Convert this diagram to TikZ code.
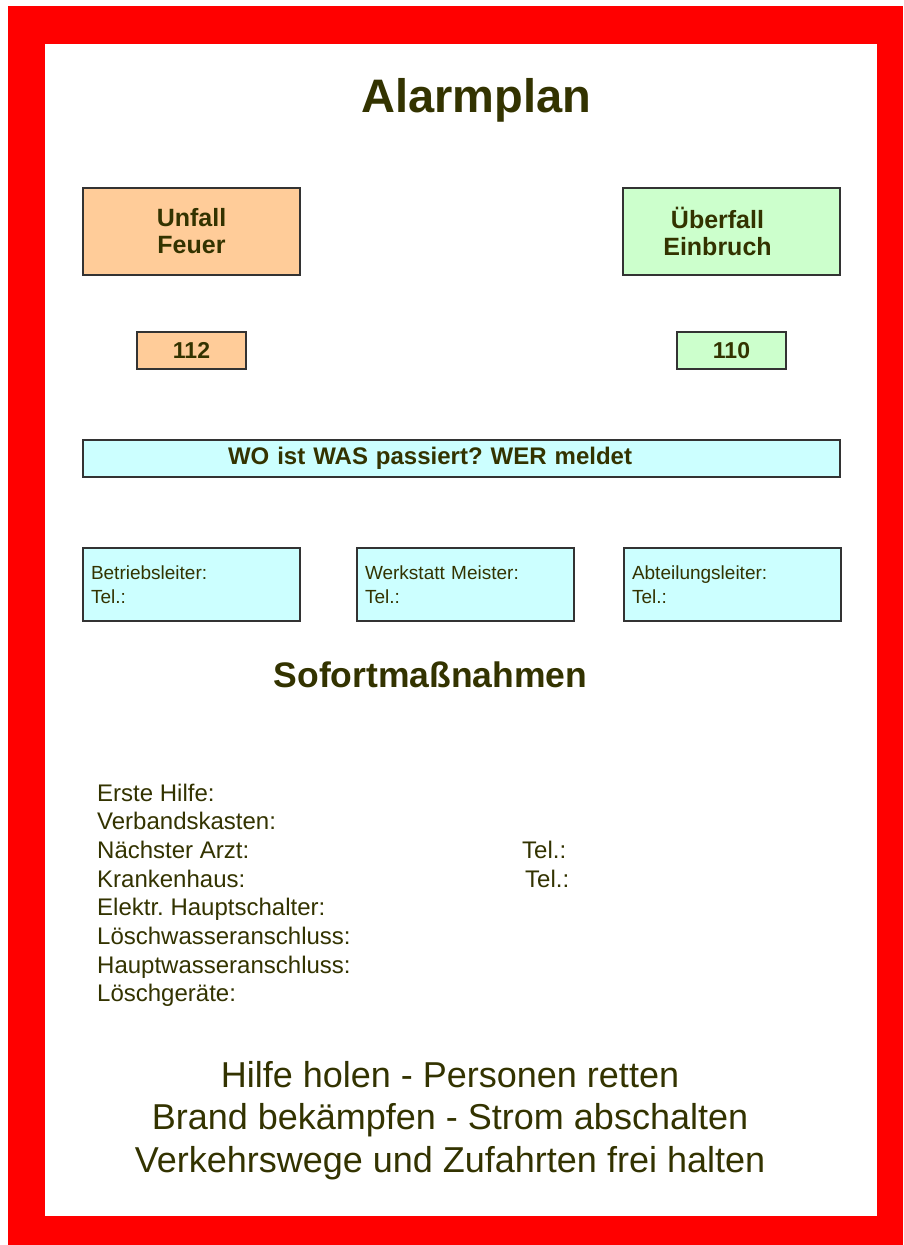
\documentclass[tikz,border=0pt]{standalone}
\usepackage{fontspec}
\setmainfont{Liberation Sans}
\usetikzlibrary{positioning}
\frenchspacing

\definecolor{olivetext}{RGB}{51,51,0}
\definecolor{peach}{RGB}{255,204,153}
\definecolor{mint}{RGB}{204,255,204}
\definecolor{icecyan}{RGB}{204,255,255}
\definecolor{alarmred}{RGB}{255,0,0}

\begin{document}
\begin{tikzpicture}[x=1pt,y=-1pt,
        text=olivetext,
        main box/.style={rectangle,draw=black!80,line width=1.6pt,
          outer sep=0pt,inner sep=0pt,minimum width=217pt},
        alarm box/.style={main box,minimum height=87pt,align=center,
          font=\fontsize{25}{27}\selectfont\bfseries},
        call box/.style={main box,minimum width=109pt,minimum height=37pt,
          font=\fontsize{23}{26}\selectfont\bfseries},
        info box/.style={main box,fill=icecyan,minimum height=73pt,
          inner xsep=8pt,text width=201pt,align=left,
          font=\fontsize{19}{24}\selectfont},
        list item/.style={anchor=base west,inner sep=0pt,
          font=\fontsize{24}{28}\selectfont},
        next item/.style={below=28.7pt of #1.base west,list item},
        slogan/.style={anchor=base,inner sep=0pt,
          font=\fontsize{36}{42}\selectfont},
        next slogan/.style={below=42.5pt of #1.base,slogan}]

        \useasboundingbox (0,0) rectangle (903,1245);

        % red frame
        \fill[alarmred] (8,6) rectangle (903,1245);
        \fill[white] (45,44) rectangle (877,1216);

        \node[anchor=base,inner sep=0pt,font=\fontsize{47}{50}\selectfont\bfseries] (title) at (476,112) {Alarmplan};

        \node[alarm box] [fill=peach] (unfall) at (191.5,231.5) {Unfall\\Feuer};
        \node[alarm box] [fill=mint] (ueberfall) at (731.5,231.5) {Überfall\hspace*{28pt}\\Einbruch\hspace*{28pt}};
        \node[call box] [fill=peach] (n112) [below=57pt of unfall] {112};
        \node[call box] [fill=mint] (n110) [below=57pt of ueberfall] {110};

        \node[main box] [fill=icecyan,minimum width=757pt,minimum height=37pt,
          inner xsep=145pt,text width=467pt,align=left,
          font=\fontsize{24}{26}\selectfont\bfseries] (wer) at (461.5,458.5) {WO ist WAS passiert? WER meldet};

        \node[info box] (betrieb) at (191.5,584.5) {Betriebsleiter:\\Tel.:};
        \node[info box] (werkstatt) [right=57pt of betrieb] {Werkstatt Meister:\\Tel.:};
        \node[info box] (abteilung) [right=50pt of werkstatt] {Abteilungsleiter:\\Tel.:};

        \node[anchor=base,inner sep=0pt,font=\fontsize{35.5}{40}\selectfont\bfseries] (sofort) at (430.5,687) {Sofortmaßnahmen};

        \node[list item] (erste) at (97,801) {Erste Hilfe:};
        \node[next item=erste] (verband) {Verbandskasten:};
        \node[next item=verband] (arzt) {Nächster Arzt:};
        \node[next item=arzt] (kranken) {Krankenhaus:};
        \node[next item=kranken] (schalter) {Elektr. Hauptschalter:};
        \node[next item=schalter] (loeschwasser) {Löschwasseranschluss:};
        \node[next item=loeschwasser] (hauptwasser) {Hauptwasseranschluss:};
        \node[next item=hauptwasser] (geraete) {Löschgeräte:};
        \node[list item] (arzttel) at ([xshift=425pt]arzt.base west) {Tel.:};
        \node[list item] (krankentel) at ([xshift=428pt]kranken.base west) {Tel.:};

        \node[slogan] (hilfe) at (450,1087) {Hilfe holen - Personen retten};
        \node[next slogan=hilfe] (brand) {Brand bekämpfen - Strom abschalten};
        \node[next slogan=brand] (wege) {Verkehrswege und Zufahrten frei halten};
    \end{tikzpicture}
\end{document}
